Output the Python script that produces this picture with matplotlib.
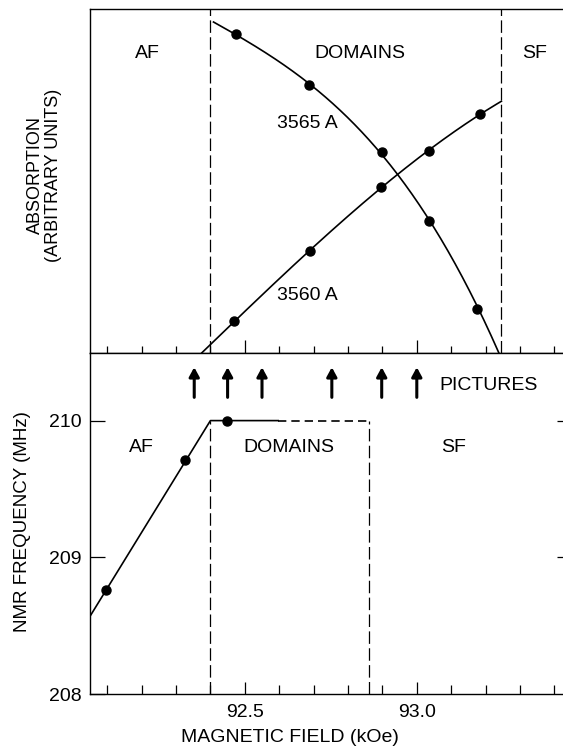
import numpy as np
import matplotlib.pyplot as plt
from matplotlib.ticker import MultipleLocator, FormatStrFormatter

plt.rcParams['font.family'] = ['Liberation Sans', 'DejaVu Sans']

# field range (kOe)
x_min, x_max = 92.05, 93.425

# upper panel: absorption, arbitrary units (0..10)
field_3565 = [92.473, 92.686, 92.899, 93.035, 93.176]
absorb_3565 = [9.26, 7.79, 5.85, 3.85, 1.28]
field_3560 = [92.470, 92.689, 92.897, 93.036, 93.183]
absorb_3560 = [0.93, 2.97, 4.83, 5.88, 6.95]
# where the drawn curves start and stop
ends_3565_x = [92.409, 93.241]
ends_3565_y = [9.63, 0.0]
ends_3560_x = [92.375, 93.246]
ends_3560_y = [0.0, 7.31]

# phase boundaries
af_domains = 92.4
domains_sf_abs = 93.246
domains_sf_nmr = 92.862

# lower panel: NMR frequency (MHz)
field_nmr = [92.097, 92.326, 92.447]
freq_nmr = [208.764, 209.713, 210.0]
nmr_line_x = [92.05, 92.4, 92.597]
nmr_line_y = [208.57, 210.0, 210.0]

# fields where pictures were taken
pictures = [92.353, 92.450, 92.550, 92.753, 92.898, 93.0]

fig = plt.figure(figsize=(5.63, 7.5), dpi=100)
ax1 = fig.add_axes([90/563, 1-353/750, 1-90/563, 344/750])
ax2 = fig.add_axes([90/563, 1-694.3/750, 1-90/563, 341.3/750])

for ax in (ax1, ax2):
    ax.set_xlim(x_min, x_max)
    ax.spines['right'].set_visible(False)
    for s in ax.spines.values():
        s.set_linewidth(1.0)
    ax.xaxis.set_major_locator(MultipleLocator(0.5))
    ax.xaxis.set_minor_locator(MultipleLocator(0.1))

# ---- upper panel ----
ax1.set_ylim(0, 10)
ax1.set_yticks([])
ax1.tick_params(axis='x', which='both', direction='in', labelbottom=False)
ax1.tick_params(axis='x', which='major', length=9.5, width=0.9)
ax1.tick_params(axis='x', which='minor', length=5, width=0.9)

for fx, fy, ex, ey in [(field_3565, absorb_3565, ends_3565_x, ends_3565_y),
                       (field_3560, absorb_3560, ends_3560_x, ends_3560_y)]:
    px = [ex[0]] + fx + [ex[1]]
    py = [ey[0]] + fy + [ey[1]]
    c = np.polyfit(px, py, 3)
    xx = np.linspace(ex[0], ex[1], 200)
    ax1.plot(xx, np.polyval(c, xx), color='k', lw=1.2)
    ax1.plot(fx, fy, 'o', color='k', ms=6.5)

for b in (af_domains, domains_sf_abs):
    ax1.axvline(b, color='k', lw=0.9, dashes=(10, 3.5))

txt = dict(fontsize=14, color='k')
ax1.text(92.217, 8.72, 'AF', ha='center', va='center', **txt)
ax1.text(92.835, 8.72, 'DOMAINS', ha='center', va='center', **txt)
ax1.text(93.343, 8.72, 'SF', ha='center', va='center', **txt)
ax1.text(92.594, 6.66, '3565 A', ha='left', va='center', **txt)
ax1.text(92.594, 1.66, '3560 A', ha='left', va='center', **txt)

# ---- lower panel ----
ax2.set_ylim(208, 210.494)
ax2.set_yticks([208, 209, 210])
ax2.xaxis.set_major_formatter(FormatStrFormatter('%.1f'))
ax2.tick_params(axis='x', which='both', direction='in', labelsize=14, pad=7)
ax2.tick_params(axis='x', which='major', length=9, width=0.9)
ax2.tick_params(axis='x', which='minor', length=6.5, width=0.9)
ax2.tick_params(axis='y', direction='in', length=11, width=0.9, labelsize=14, pad=6)
sec = ax2.secondary_yaxis('right')
sec.set_yticks([209, 210])
sec.tick_params(direction='in', length=4, width=0.9, labelright=False)
sec.spines['right'].set_visible(False)

ax2.plot(nmr_line_x, nmr_line_y, color='k', lw=1.2)
ax2.plot(field_nmr, freq_nmr, 'o', color='k', ms=6.5)
ax2.plot([nmr_line_x[-1], domains_sf_nmr], [210, 210], color='k', lw=1.2, dashes=(5, 3))
ax2.plot([af_domains, af_domains], [208, 210], color='k', lw=0.9, dashes=(10, 3.5))
ax2.plot([domains_sf_nmr, domains_sf_nmr], [208, 210], color='k', lw=0.9, dashes=(10, 3.5))

for p in pictures:
    ax2.annotate('', xy=(p, 210.39), xytext=(p, 210.17),
                 arrowprops=dict(arrowstyle='-|>,head_length=0.55,head_width=0.3',
                                 lw=2.2, color='k', shrinkA=0, shrinkB=0))
ax2.text(93.067, 210.26, 'PICTURES', ha='left', va='center', **txt)

ax2.text(92.199, 209.80, 'AF', ha='center', va='center', **txt)
ax2.text(92.629, 209.80, 'DOMAINS', ha='center', va='center', **txt)
ax2.text(93.108, 209.80, 'SF', ha='center', va='center', **txt)

ax2.set_xlabel('MAGNETIC FIELD (kOe)', fontsize=14)
ax2.xaxis.set_label_coords((290-90)/473, -0.102)

fig.text(44.5/563, 1-175/750, 'ABSORPTION\n(ARBITRARY UNITS)', rotation=90,
         ha='center', va='center', multialignment='center', fontsize=13, linespacing=1.15)
fig.text(23/563, 1-522/750, 'NMR FREQUENCY (MHz)', rotation=90,
         ha='center', va='center', fontsize=13.5)

fig.savefig('out.png', dpi=100)
